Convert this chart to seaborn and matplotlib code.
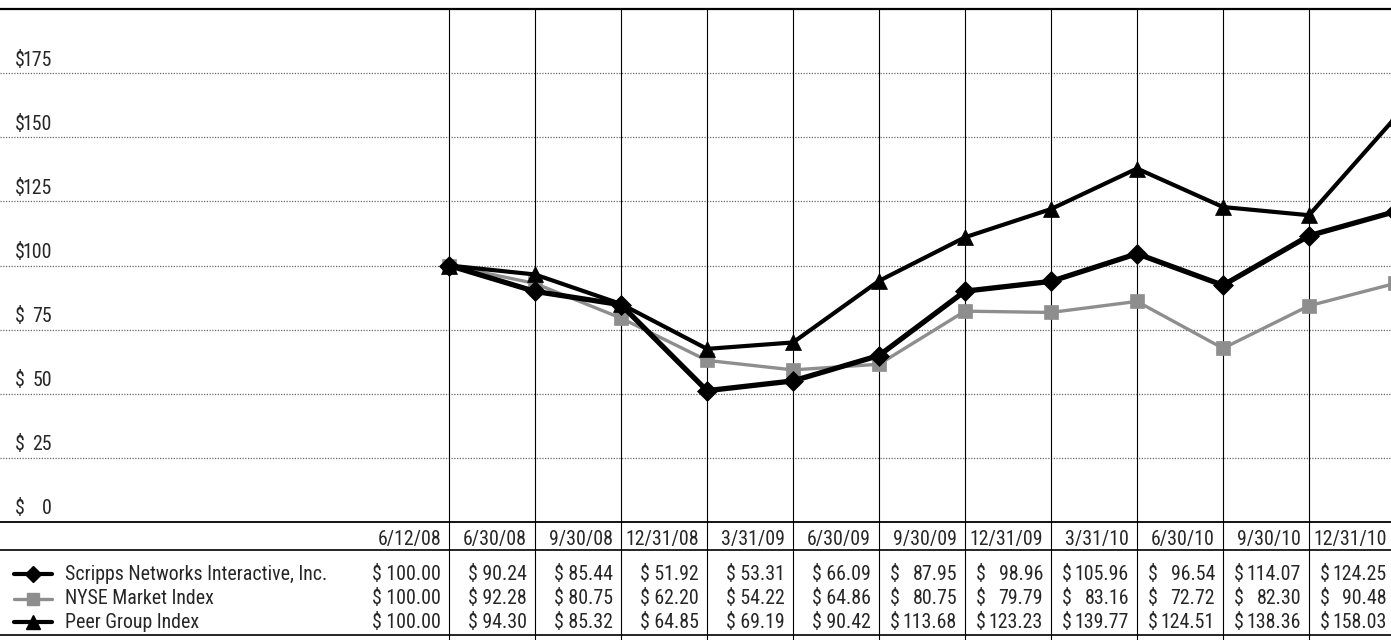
import re
import numpy as np
import pandas as pd
import matplotlib
matplotlib.use("Agg")
import matplotlib.pyplot as plt
from matplotlib import font_manager as fm
from matplotlib.font_manager import FontProperties
import seaborn as sns

# ---------------- data ----------------
dates = ["6/12/08", "6/30/08", "9/30/08", "12/31/08", "3/31/09", "6/30/09",
         "9/30/09", "12/31/09", "3/31/10", "6/30/10", "9/30/10", "12/31/10"]
series_names = ["Scripps Networks Interactive, Inc.", "NYSE Market Index", "Peer Group Index"]

# values printed in the table
scripps_table = [100.00, 90.24, 85.44, 51.92, 53.31, 66.09, 87.95, 98.96, 105.96, 96.54, 114.07, 124.25]
nyse_table = [100.00, 92.28, 80.75, 62.20, 54.22, 64.86, 80.75, 79.79, 83.16, 72.72, 82.30, 90.48]
peer_table = [100.00, 94.30, 85.32, 64.85, 69.19, 90.42, 113.68, 123.23, 139.77, 124.51, 138.36, 158.03]

# values as drawn by the lines of the graph
scripps_plot = [100.0, 89.9, 84.7, 51.2, 55.0, 64.9, 90.0, 93.8, 104.6, 92.3, 111.6, 121.0]
nyse_plot = [100.0, 93.0, 79.5, 63.0, 59.3, 61.5, 82.2, 81.7, 86.0, 67.7, 84.3, 93.0]
peer_plot = [100.0, 96.5, 85.0, 67.5, 70.0, 94.0, 111.0, 122.0, 137.8, 122.8, 119.6, 157.5]

y_ticks = [0, 25, 50, 75, 100, 125, 150, 175]

# ---------------- style ----------------
sns.set_style("white")
plt.rcParams["font.family"] = ["DejaVu Sans"]


def pick_font():
    fl = fm.fontManager.ttflist

    def regular(f):
        return f.style == "normal" and f.weight in (400, "normal", "regular", "book")

    prefs = [r"Liberation Sans Narrow", r"Roboto Condensed", r"Noto Sans Condensed",
             r"Open Sans Condensed", r"Arimo Narrow", r"Narrow", r"Condensed"]
    for p in prefs:
        c = [f for f in fl if re.search(p, f.name) and regular(f)]
        if c:
            return c[0].fname
    c = [f for f in fl if str(f.stretch) in ("condensed", "semi-condensed") and regular(f)]
    if c:
        c.sort(key=lambda f: (f.name != "DejaVu Sans", f.name))
        return c[0].fname
    c = [f for f in fl if f.name == "Roboto" and regular(f)]
    if c:
        return c[0].fname
    return fm.findfont("DejaVu Sans")


FONT_FILE = pick_font()

W, H = 1391, 640
X0, DX = 449.0, 86.0          # pixel position of first point, spacing


def px2x(px):
    return (px - X0) / DX


xlim = (px2x(0), px2x(W))
TOP_PX, ZERO_PX = 9, 522
YMAX = 200

fig = plt.figure(figsize=(W / 100, H / 100), dpi=100)

# calibrate font size so that "$ 100.00" is about 69 px wide
renderer = fig.canvas.get_renderer()
_probe = fig.text(0, 0, "$ 100.00", fontproperties=FontProperties(fname=FONT_FILE, size=14))
_w = _probe.get_window_extent(renderer).width
_probe.remove()
FS = float(np.clip(14 * 69.0 / _w, 10.5, 15.5))
FP = FontProperties(fname=FONT_FILE, size=FS)

# ---------------- chart ----------------
ax = fig.add_axes([0, (H - ZERO_PX) / H, 1, (ZERO_PX - TOP_PX) / H])

df = pd.DataFrame({"idx": np.arange(len(dates)),
                   "scripps": scripps_plot, "nyse": nyse_plot, "peer": peer_plot})

GRAY = "#8e8e8e"
sns.lineplot(data=df, x="idx", y="nyse", ax=ax, color=GRAY, lw=2.4, marker="s",
             ms=9.5, mec=GRAY, mew=0.5, zorder=3)
sns.lineplot(data=df, x="idx", y="peer", ax=ax, color="black", lw=3.0, marker="^",
             ms=11.5, mec="black", mew=0.5, zorder=4)
sns.lineplot(data=df, x="idx", y="scripps", ax=ax, color="black", lw=3.8, marker="D",
             ms=10.5, mec="black", mew=0.5, zorder=5)

ax.set_xlim(*xlim)
ax.set_ylim(0, YMAX)
ax.axis("off")

for v in y_ticks[1:]:
    ax.axhline(v, color="#666666", lw=0.9, ls=(0, (1, 1.2)), zorder=1)
ax.axhline(0, color="black", lw=1.3, clip_on=False, zorder=2)
ax.axhline(YMAX, color="black", lw=1.6, clip_on=False, zorder=2)
for i in range(len(dates)):
    ax.axvline(i, color="black", lw=0.8, zorder=1)

off = 13 * 72 / 100
for v in y_ticks:
    ax.annotate("$", xy=(15 / W, v), xycoords=("axes fraction", "data"),
                xytext=(0, off), textcoords="offset points",
                ha="left", va="center", fontproperties=FP)
    ax.annotate(f"{v}", xy=(52 / W, v), xycoords=("axes fraction", "data"),
                xytext=(0, off), textcoords="offset points",
                ha="right", va="center", fontproperties=FP)

# ---------------- table ----------------
axt = fig.add_axes([0, 0, 1, (H - ZERO_PX) / H])
axt.set_xlim(*xlim)
axt.set_ylim(H - ZERO_PX, 0)
axt.axis("off")

HEADER_Y, HEADER_LINE, BOTTOM_LINE = 17, 28, 113
row_y = [52, 77, 100]

axt.axhline(HEADER_LINE, color="black", lw=1.2)
axt.axhline(BOTTOM_LINE, color="black", lw=1.2)
for i in range(len(dates)):
    axt.axvline(i, color="black", lw=0.8)

pad_r = 8 / DX
pad_l = 11 / DX
for i, d in enumerate(dates):
    axt.text(i - pad_r, HEADER_Y, d, ha="right", va="center", fontproperties=FP)

table_rows = [scripps_table, nyse_table, peer_table]
for i in range(len(dates)):
    col = [r[i] for r in table_rows]
    mixed = max(col) >= 100 and min(col) < 100
    for vals, y in zip(table_rows, row_y):
        v = vals[i]
        if mixed:
            axt.text(i - 1 + pad_l, y, "$", ha="left", va="center", fontproperties=FP)
            axt.text(i - pad_r, y, f"{v:.2f}", ha="right", va="center", fontproperties=FP)
        else:
            axt.text(i - pad_r, y, f"$ {v:.2f}", ha="right", va="center", fontproperties=FP)

legend_styles = [
    dict(color="black", marker="D", ms=8, mec="black", lw=3.0),
    dict(color=GRAY, marker="s", ms=8, mec=GRAY, lw=2.4),
    dict(color="black", marker="^", ms=9.5, mec="black", lw=3.0),
]
for name, y, st in zip(series_names, row_y, legend_styles):
    axt.plot([px2x(14), px2x(33), px2x(52)], [y, y, y], markevery=[1], **st)
    axt.text(px2x(65), y, name, ha="left", va="center", fontproperties=FP)

fig.savefig("out.png", dpi=100)
